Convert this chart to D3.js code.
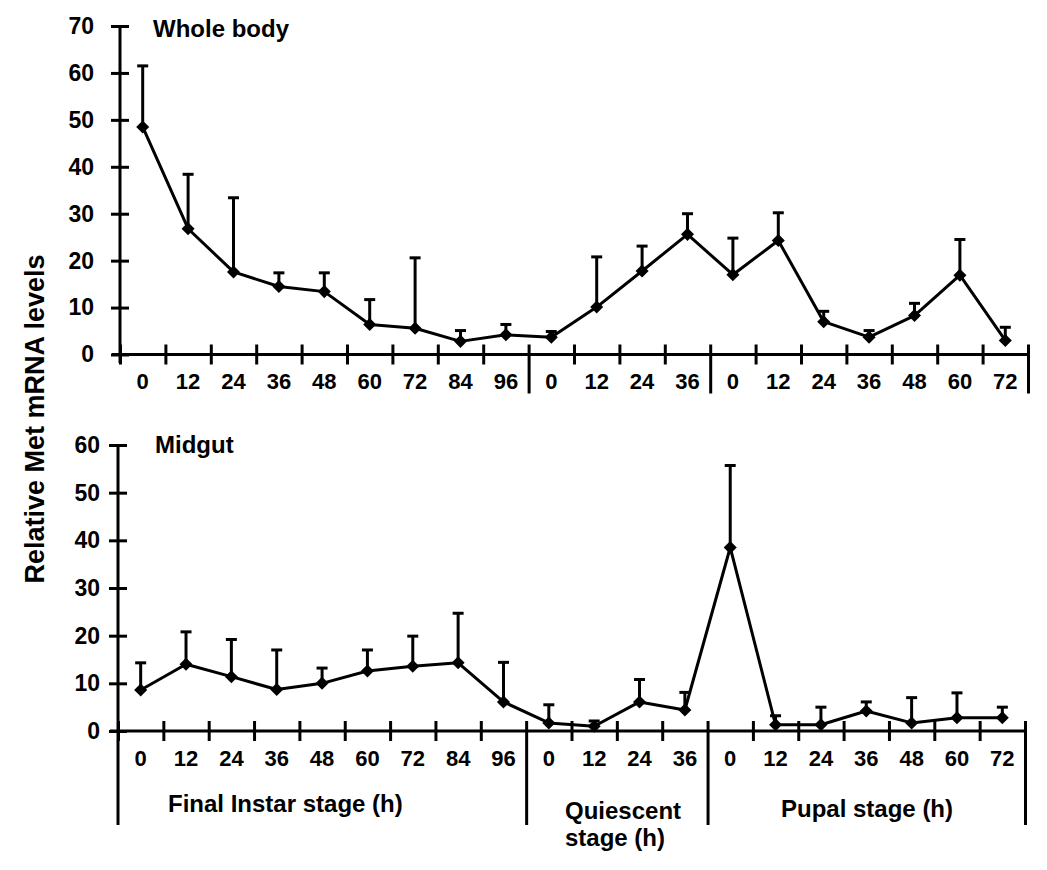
<!DOCTYPE html>
<html>
<head>
<meta charset="utf-8">
<script src="https://cdn.jsdelivr.net/npm/d3@7/dist/d3.min.js"></script>
<style>
  html, body { margin: 0; padding: 0; background: #fff; }
  svg { display: block; }
  text { font-family: "Liberation Sans", Arial, sans-serif; fill: #000; }
</style>
</head>
<body>
<svg id="chart" width="1047" height="870"></svg>
<script>
// ---- data ----
const instarHours    = [0, 12, 24, 36, 48, 60, 72, 84, 96];
const quiescentHours = [0, 12, 24, 36];
const pupalHours     = [0, 12, 24, 36, 48, 60, 72];
const stageNames     = ["Final Instar stage (h)", "Quiescent|stage (h)", "Pupal stage (h)"];

const wholeBodyMean = [48.5, 26.8, 17.6, 14.5, 13.4, 6.4, 5.6, 2.8, 4.2,
                       3.7, 10.1, 17.8, 25.6,
                       17.0, 24.3, 7.0, 3.7, 8.3, 16.9, 3.0];
const wholeBodyErr  = [13.0, 11.6, 15.8, 2.9, 4.0, 5.3, 15.0, 2.3, 2.2,
                       1.2, 10.7, 5.3, 4.4,
                       7.8, 5.9, 2.2, 1.4, 2.6, 7.6, 2.8];
const midgutMean    = [8.6, 14.0, 11.4, 8.7, 10.0, 12.6, 13.6, 14.3, 6.1,
                       1.7, 1.0, 6.1, 4.4,
                       38.5, 1.3, 1.3, 4.2, 1.7, 2.8, 2.8];
const midgutErr     = [5.7, 6.8, 7.8, 8.3, 3.2, 4.4, 6.3, 10.4, 8.3,
                       3.8, 1.1, 4.7, 3.7,
                       17.2, 1.9, 3.7, 1.9, 5.3, 5.2, 2.2];
const wholeBodyTicks = [0, 10, 20, 30, 40, 50, 60, 70];
const midgutTicks    = [0, 10, 20, 30, 40, 50, 60];

const hourLabels = [...instarHours, ...quiescentHours, ...pupalHours].map(String);
const categories = [
  ...instarHours.map(h => "L" + h),
  ...quiescentHours.map(h => "Q" + h),
  ...pupalHours.map(h => "P" + h)
];
const stageBounds = [0, instarHours.length, instarHours.length + quiescentHours.length, categories.length];

const svg = d3.select("#chart");
const SW = 3;

function panel(cfg) {
  const g = svg.append("g");
  const xBand = d3.scaleBand().domain(categories).range([cfg.x0, cfg.x1]).padding(0);
  const xIdx = d3.scaleLinear().domain([0, categories.length]).range([cfg.x0, cfg.x1]);
  const y = d3.scaleLinear().domain([0, cfg.yMax]).range(cfg.yRange);
  const yAxisPos = y(0);

  // x axis: boundary ticks
  const xAx = g.append("g").attr("transform", `translate(0,${yAxisPos})`)
    .call(d3.axisBottom(xIdx).tickValues(d3.range(0, categories.length + 1)).tickFormat("").tickSizeOuter(0).tickSize(10));
  xAx.select(".domain").attr("stroke-width", SW).attr("d", `M${cfg.x0 - 8},0H${cfg.x1}`);
  xAx.selectAll(".tick line").attr("stroke-width", SW).attr("y1", -10).attr("y2", 10);
  // stage dividers longer
  xAx.selectAll(".tick").filter(d => stageBounds.slice(1).includes(d)).select("line")
    .attr("y1", -10).attr("y2", cfg.divLen);

  // x labels
  const xl = g.append("g").attr("transform", `translate(0,${yAxisPos})`)
    .call(d3.axisBottom(xBand).tickSize(0).tickFormat((d, i) => hourLabels[i]));
  xl.select(".domain").remove();
  xl.selectAll("text").attr("font-size", 22).attr("font-weight", "bold")
    .attr("y", 0).attr("dy", cfg.labelDy)
    .attr("font-family", '"Liberation Sans", Arial, sans-serif');

  // y axis
  const yAx = g.append("g").attr("transform", `translate(${cfg.x0},0)`)
    .call(d3.axisLeft(y).tickValues(cfg.ticks).tickSizeOuter(0).tickSize(9).tickPadding(cfg.tickPad));
  yAx.select(".domain").attr("stroke-width", SW)
    .attr("d", `M0,${y(cfg.yMax)}V${cfg.axisBottom}`);
  yAx.selectAll(".tick line").attr("stroke-width", SW).attr("x1", -9).attr("x2", 9);
  yAx.selectAll(".tick text").attr("font-size", 23).attr("font-weight", "bold")
    .attr("font-family", '"Liberation Sans", Arial, sans-serif');

  const cx = i => xBand(categories[i]) + xBand.bandwidth() / 2;

  // error bars
  const eb = g.append("g").attr("stroke", "#000").attr("stroke-width", SW);
  cfg.mean.forEach((m, i) => {
    const top = y(m + cfg.err[i]);
    eb.append("line").attr("x1", cx(i)).attr("x2", cx(i)).attr("y1", y(m)).attr("y2", top);
    eb.append("line").attr("x1", cx(i) - 5.5).attr("x2", cx(i) + 5.5).attr("y1", top).attr("y2", top);
  });

  // line
  const line = d3.line().x((d, i) => cx(i)).y(d => y(d));
  g.append("path").datum(cfg.mean).attr("d", line)
    .attr("fill", "none").attr("stroke", "#000").attr("stroke-width", SW).attr("stroke-linejoin", "round");

  // diamonds
  const sym = d3.symbol().type(d3.symbolSquare).size(85);
  g.append("g").selectAll("path").data(cfg.mean).join("path")
    .attr("d", sym)
    .attr("transform", (d, i) => `translate(${cx(i)},${y(d)}) rotate(45)`)
    .attr("fill", "#000");

  // panel title
  g.append("text").attr("x", cfg.titleX).attr("y", cfg.titleY)
    .attr("font-size", 24).attr("font-weight", "bold").text(cfg.title);

  return { xIdx, y, g };
}

panel({
  x0: 120, x1: 1028, yMax: 70, yRange: [354.5, 26], ticks: wholeBodyTicks,
  mean: wholeBodyMean, err: wholeBodyErr, axisBottom: 363, divLen: 39,
  labelDy: 34, tickPad: 17, title: "Whole body", titleX: 153, titleY: 37
});

const bottom = panel({
  x0: 118, x1: 1025, yMax: 60, yRange: [731, 445], ticks: midgutTicks,
  mean: midgutMean, err: midgutErr, axisBottom: 825, divLen: 94,
  labelDy: 35, tickPad: 9, title: "Midgut", titleX: 155, titleY: 453
});

// end line of bottom axis (right edge) handled via divider ticks; stage labels
const sl = svg.append("g").attr("font-size", 24).attr("font-weight", "bold");
sl.append("text").attr("x", 168).attr("y", 812).text(stageNames[0]);
const q = stageNames[1].split("|");
sl.append("text").attr("x", 565).attr("y", 819).text(q[0]);
sl.append("text").attr("x", 565).attr("y", 846).text(q[1]);
sl.append("text").attr("x", 781).attr("y", 817).text(stageNames[2]);

// y axis title
svg.append("text")
  .attr("transform", "translate(44,419) rotate(-90)")
  .attr("text-anchor", "middle")
  .attr("font-size", 27).attr("font-weight", "bold")
  .text("Relative Met mRNA levels");
</script>
</body>
</html>
